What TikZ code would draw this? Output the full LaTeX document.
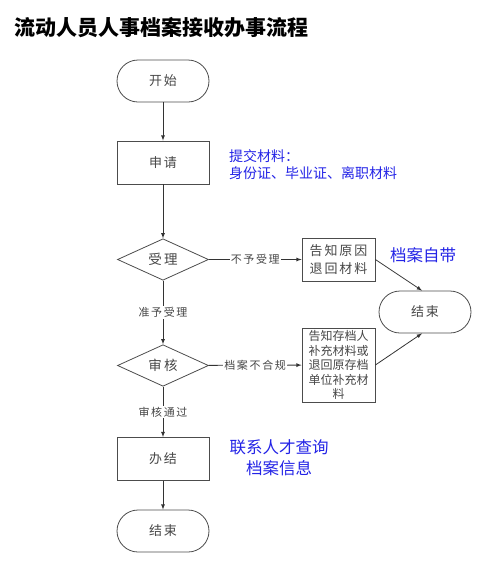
\documentclass[tikz,border=0pt]{standalone}
\usepackage{fontspec}
\setmainfont{Noto Sans CJK SC}
\newfontfamily\spacedfont[LetterSpace=15]{Noto Sans CJK SC}
\usetikzlibrary{shapes.geometric}
\definecolor{remarkblue}{RGB}{35,35,230}
\definecolor{boxtext}{RGB}{70,70,70}

\begin{document}
\begin{tikzpicture}[x=1pt,y=-1pt,
		box/.style={draw=black!70,line width=.8pt,minimum width=92pt,minimum height=43pt,text=boxtext,font=\spacedfont\fontsize{13}{15}\selectfont},
		term/.style={box,rounded corners=21pt,minimum height=42pt},
		check/.style={diamond,draw=black!70,line width=.8pt,minimum width=91pt,minimum height=41pt,inner sep=0pt,text=boxtext,font=\spacedfont\fontsize{13.5}{15}\selectfont},
		note/.style={draw=black!70,line width=.8pt,minimum width=73pt,align=center,inner sep=1pt,text=boxtext},
		tag/.style={fill=white,inner sep=1pt,text=boxtext,font=\spacedfont\fontsize{11}{13}\selectfont},
		remark/.style={text=remarkblue,inner sep=2pt},
		flow/.style={-latex,line width=.8pt,black!80}]
	\useasboundingbox (0,0) rectangle (488,563);
	\node[anchor=west,font=\bfseries\fontsize{21}{24}\selectfont] (title) at (11,28) {流动人员人事档案接收办事流程};
	
	% main column
	\node[term] (start) at (163,81) {开始};
	\node[box] (apply) at (163,162.5) {申请};
	\node[check] (accept) at (163,259.5) {受理};
	\node[check] (review) at (163,365.5) {审核};
	\node[box] (finish) at (163,459) {办结};
	\node[term] (stop) at (163,531) {结束};
	
	% side branch
	\node[note,minimum height=43pt,font=\spacedfont\fontsize{13}{18}\selectfont] (reject) at (338.5,259.5) {告知原因\\退回材料};
	\node[note,minimum height=74pt,font=\fontsize{12}{14.5}\selectfont] (supply) at (338.5,365) {告知存档人\\补充材料或\\退回原存档\\单位补充材\\料};
	\node[term] (end2) at (425,312) {结束};
	
	% remarks
	\node[remark,anchor=west,align=left,font=\fontsize{14}{17}\selectfont] (docs) at (227,164.5) {提交材料：\\身份证、毕业证、离职材料};
	\node[remark,font=\fontsize{16.5}{20}\selectfont] (self) at (423,255) {档案自带};
	\node[remark,align=center,font=\fontsize{16.5}{21}\selectfont] (query) at (279,457.5) {联系人才查询\\档案信息};
	
	\draw[flow] (start) -- (apply);
	\draw[flow] (apply) -- (accept);
	\draw[flow] (accept) -- node[tag]{准予受理} (review);
	\draw[flow] (review) -- node[tag]{审核通过} (finish);
	\draw[flow] (finish) -- (stop);
	\draw[flow] (accept) -- node[tag]{不予受理} (reject);
	\draw[flow] (review) -- node[tag]{档案不合规} (supply);
	\draw[flow] (reject.east) -- ([xshift=-3pt]end2.north);
	\draw[flow] (supply.east) -- ([xshift=-3pt]end2.south);
\end{tikzpicture}
\end{document}
